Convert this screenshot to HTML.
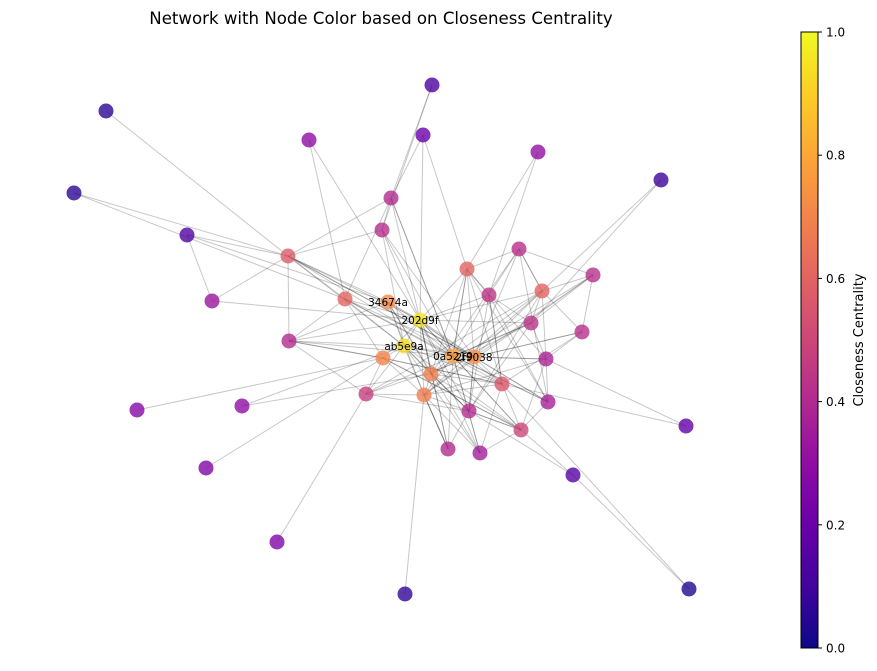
<!DOCTYPE html>
<html><head><meta charset="utf-8">
<style>
body{margin:0;background:#fff;width:877px;height:666px;overflow:hidden;font-family:"Liberation Sans","DejaVu Sans",sans-serif;}
svg text{font-family:"DejaVu Sans","Liberation Sans",sans-serif;}
</style></head>
<body>
<svg id="chart" width="877" height="666" viewBox="0 0 877 666" xmlns="http://www.w3.org/2000/svg">
<defs>
<linearGradient id="plasma" x1="0" y1="1" x2="0" y2="0">
<stop offset="0" stop-color="#0d0887"/><stop offset="0.1" stop-color="#41049d"/><stop offset="0.2" stop-color="#6a00a8"/><stop offset="0.3" stop-color="#8f0da4"/><stop offset="0.4" stop-color="#b12a90"/><stop offset="0.5" stop-color="#cc4778"/><stop offset="0.6" stop-color="#e16462"/><stop offset="0.7" stop-color="#f2844b"/><stop offset="0.8" stop-color="#fca636"/><stop offset="0.9" stop-color="#fcce25"/><stop offset="1" stop-color="#f0f921"/>
</linearGradient>
</defs>
<text x="381" y="24" font-size="16.6" text-anchor="middle" fill="#000">Network with Node Color based on Closeness Centrality</text>
<g id="edges"></g>
<g id="nodes"></g>
<g id="labels"></g>
<g>
<rect x="801" y="32" width="17" height="616" fill="url(#plasma)" stroke="#000" stroke-width="1"/>
<g id="cbticks"></g>
<text transform="translate(863,340) rotate(-90)" font-size="13" text-anchor="middle">Closeness Centrality</text>
</g>
</svg>
<script>
const nodeX=[420,404,388,453,474,345,383,431,424,467,542,288,502,366,489,531,521,469,448,480,546,548,519,593,582,289,382,391,212,242,137,206,277,309,423,432,538,187,106,74,661,686,573,405,689];
const nodeY=[320,346,302,356,357,299,358,374,395,269,291,256,384,394,295,323,430,411,449,453,359,402,249,275,332,341,230,198,301,406,410,468,542,140,135,85,152,235,111,193,180,426,475,594,589];
const closeness=[0.95,0.93,0.72,0.78,0.73,0.6,0.7,0.68,0.68,0.6,0.6,0.57,0.56,0.48,0.44,0.43,0.5,0.41,0.4,0.36,0.38,0.37,0.42,0.42,0.42,0.4,0.42,0.4,0.33,0.3,0.27,0.26,0.25,0.3,0.2,0.13,0.31,0.14,0.06,0.06,0.09,0.18,0.15,0.07,0.04];
const nodeLabels={0:"202d9f",1:"ab5e9a",2:"34674a",3:"0a5219",4:"2f9038"};
const edgeFrom=[38,39,39,37,37,37,33,33,35,35,34,34,34,36,36,40,40,41,41,42,42,42,43,32,31,30,29,29,28,28,44,11,11,11,11,11,11,11,27,27,27,27,26,26,26,5,5,5,5,2,2,2,2,0,0,0,0,0,0,0,0,0,0,0,0,0,1,1,1,1,1,1,1,1,1,1,3,3,3,3,3,3,3,3,3,4,4,4,4,4,4,4,9,9,9,9,10,10,10,10,10,14,14,14,22,22,22,23,23,23,24,24,15,15,20,20,21,12,12,16,17,18,19,6,6,6,13,13,25,25,25,7,7,8,8,8,5,11,12,17,
 2,2,2,5,5,6,6,7,7,9,9,10,10,13,13,14,14,15,15,16,17,18,19,20,21,22,23,24,25,26,27,11,11,12,12,3,3,4,4,0,0,1,1,8,8,9,10,14,22,23];
const edgeTo=[11,11,5,11,28,2,0,5,27,26,27,9,0,9,14,10,15,12,20,44,16,17,8,13,6,6,1,7,11,0,12,2,5,0,1,3,27,26,26,0,3,5,0,1,4,0,1,3,6,0,1,3,4,1,3,4,6,7,8,9,10,12,14,15,16,17,1,3,4,6,7,8,13,25,12,17,4,7,8,9,10,14,15,16,18,8,9,10,12,20,21,24,14,22,3,7,22,23,24,15,8,22,15,12,23,10,7,24,15,4,20,12,20,13,21,16,16,16,8,19,18,8,19,13,8,25,8,25,2,0,6,8,17,18,19,16,25,25,7,16,19,
 7,8,12,4,12,16,17,16,20,12,13,20,17,4,12,17,7,17,6,4,0,3,4,3,4,8,4,3,3,3,4,4,6,19,21,19,21,17,19,18,19,16,18,20,21,17,21,21,7,7];
const cbTickVals=[0,0.2,0.4,0.6,0.8,1.0];
const cbTickLabels=["0.0","0.2","0.4","0.6","0.8","1.0"];

const stops=["#0d0887","#41049d","#6a00a8","#8f0da4","#b12a90","#cc4778","#e16462","#f2844b","#fca636","#fcce25","#f0f921"];
function hx(c){return [1,3,5].map(i=>parseInt(c.substr(i,2),16));}
function plasma(v){v=Math.max(0,Math.min(1,v));const p=v*10,i=Math.min(9,Math.floor(p)),t=p-i;const a=hx(stops[i]),b=hx(stops[i+1]);return "rgb("+a.map((x,k)=>Math.round(x+(b[k]-x)*t)).join(",")+")";}
const NS="http://www.w3.org/2000/svg";
const eg=document.getElementById('edges'),ng=document.getElementById('nodes'),lg=document.getElementById('labels'),cb=document.getElementById('cbticks');
for(let i=0;i<edgeFrom.length;i++){
  const a=edgeFrom[i],b=edgeTo[i];
  if(a===b) continue;
  const l=document.createElementNS(NS,'line');
  l.setAttribute('x1',nodeX[a]);l.setAttribute('y1',nodeY[a]);l.setAttribute('x2',nodeX[b]);l.setAttribute('y2',nodeY[b]);
  l.setAttribute('stroke','#000');l.setAttribute('stroke-opacity','0.22');l.setAttribute('stroke-width','1');
  
  
  eg.appendChild(l);
}
for(let i=0;i<nodeX.length;i++){
  const c=document.createElementNS(NS,'circle');
  c.setAttribute('cx',nodeX[i]);c.setAttribute('cy',nodeY[i]);c.setAttribute('r','7.5');
  c.setAttribute('fill',plasma(closeness[i]));c.setAttribute('fill-opacity','0.8');
  
  
  ng.appendChild(c);
}
for(const k in nodeLabels){
  const t=document.createElementNS(NS,'text');
  t.setAttribute('x',nodeX[k]);t.setAttribute('y',nodeY[k]+4);t.setAttribute('font-size','10.5');t.setAttribute('text-anchor','middle');
  t.textContent=nodeLabels[k];
  
  
  lg.appendChild(t);
}
for(let i=0;i<cbTickVals.length;i++){
  const y=648-cbTickVals[i]*616;
  const l=document.createElementNS(NS,'line');
  l.setAttribute('x1',818);l.setAttribute('x2',822);l.setAttribute('y1',y);l.setAttribute('y2',y);l.setAttribute('stroke','#000');
  
  
  cb.appendChild(l);
  const t=document.createElementNS(NS,'text');
  t.setAttribute('x',826);t.setAttribute('y',y+4.5);t.setAttribute('font-size','12');
  t.textContent=cbTickLabels[i];
  
  
  cb.appendChild(t);
}
</script>
</body></html>
